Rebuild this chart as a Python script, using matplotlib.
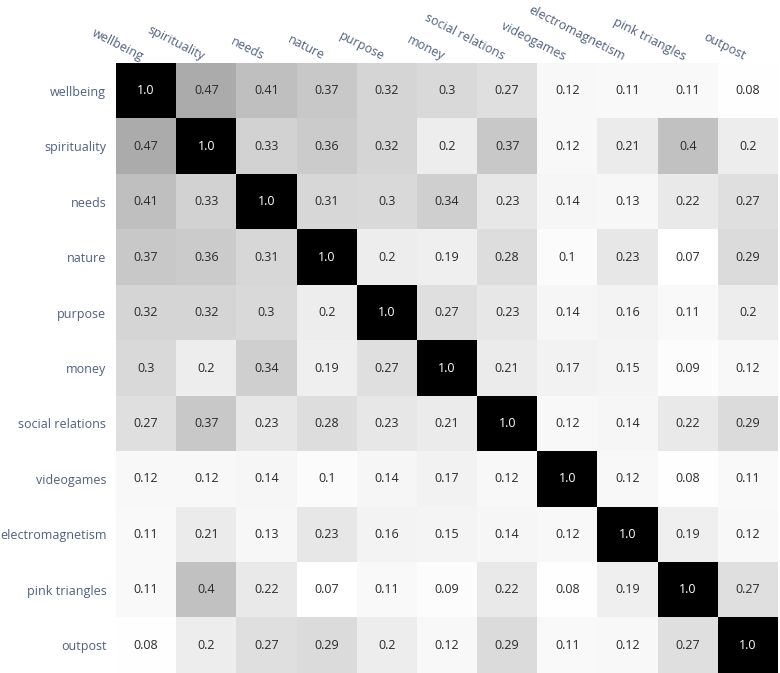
import matplotlib
matplotlib.use("Agg")
import matplotlib.pyplot as plt
import matplotlib.transforms as mtransforms
import numpy as np

labels = ["wellbeing", "spirituality", "needs", "nature", "purpose", "money",
          "social relations", "videogames", "electromagnetism", "pink triangles", "outpost"]

row_wellbeing = [1.0, 0.47, 0.41, 0.37, 0.32, 0.3, 0.27, 0.12, 0.11, 0.11, 0.08]
row_spirituality = [0.47, 1.0, 0.33, 0.36, 0.32, 0.2, 0.37, 0.12, 0.21, 0.4, 0.2]
row_needs = [0.41, 0.33, 1.0, 0.31, 0.3, 0.34, 0.23, 0.14, 0.13, 0.22, 0.27]
row_nature = [0.37, 0.36, 0.31, 1.0, 0.2, 0.19, 0.28, 0.1, 0.23, 0.07, 0.29]
row_purpose = [0.32, 0.32, 0.3, 0.2, 1.0, 0.27, 0.23, 0.14, 0.16, 0.11, 0.2]
row_money = [0.3, 0.2, 0.34, 0.19, 0.27, 1.0, 0.21, 0.17, 0.15, 0.09, 0.12]
row_social = [0.27, 0.37, 0.23, 0.28, 0.23, 0.21, 1.0, 0.12, 0.14, 0.22, 0.29]
row_videogames = [0.12, 0.12, 0.14, 0.1, 0.14, 0.17, 0.12, 1.0, 0.12, 0.08, 0.11]
row_electro = [0.11, 0.21, 0.13, 0.23, 0.16, 0.15, 0.14, 0.12, 1.0, 0.19, 0.12]
row_pink = [0.11, 0.4, 0.22, 0.07, 0.11, 0.09, 0.22, 0.08, 0.19, 1.0, 0.27]
row_outpost = [0.08, 0.2, 0.27, 0.29, 0.2, 0.12, 0.29, 0.11, 0.12, 0.27, 1.0]

data = np.array([row_wellbeing, row_spirituality, row_needs, row_nature, row_purpose,
                 row_money, row_social, row_videogames, row_electro, row_pink, row_outpost])

plt.rcParams['font.family'] = ['Open Sans', 'DejaVu Sans']

fig = plt.figure(figsize=(7.8, 6.73), dpi=100)
ax = fig.add_axes([116 / 780, 0.0, 662 / 780, 610 / 673])

n = len(labels)
ax.imshow(data, cmap="Greys", vmin=data.min(), vmax=data.max(), aspect="auto",
          interpolation="nearest")

for i in range(n):
    for j in range(n):
        v = data[i, j]
        txt = f"{v:.1f}" if v == 1.0 else f"{v:g}"
        color = "white" if v > 0.75 else "#2a2a2a"
        ax.text(j, i, txt, ha="center", va="center", fontsize=9, color=color)

label_color = "#4f6080"
ax.set_yticks(range(n))
ax.set_yticklabels(labels, fontsize=9, color=label_color)
ax.set_xticks([])
trans = ax.get_xaxis_transform() + mtransforms.ScaledTranslation(
    -0.06, 0.0, fig.dpi_scale_trans)
for j, lab in enumerate(labels):
    ax.text(j, 1.0, lab, transform=trans, fontsize=9, color=label_color,
            rotation=-27, ha="right", va="bottom", rotation_mode="anchor",
            clip_on=False)
ax.tick_params(axis="both", length=0)
ax.tick_params(axis="y", pad=7)
for s in ax.spines.values():
    s.set_visible(False)

fig.savefig("out.png", dpi=100)
